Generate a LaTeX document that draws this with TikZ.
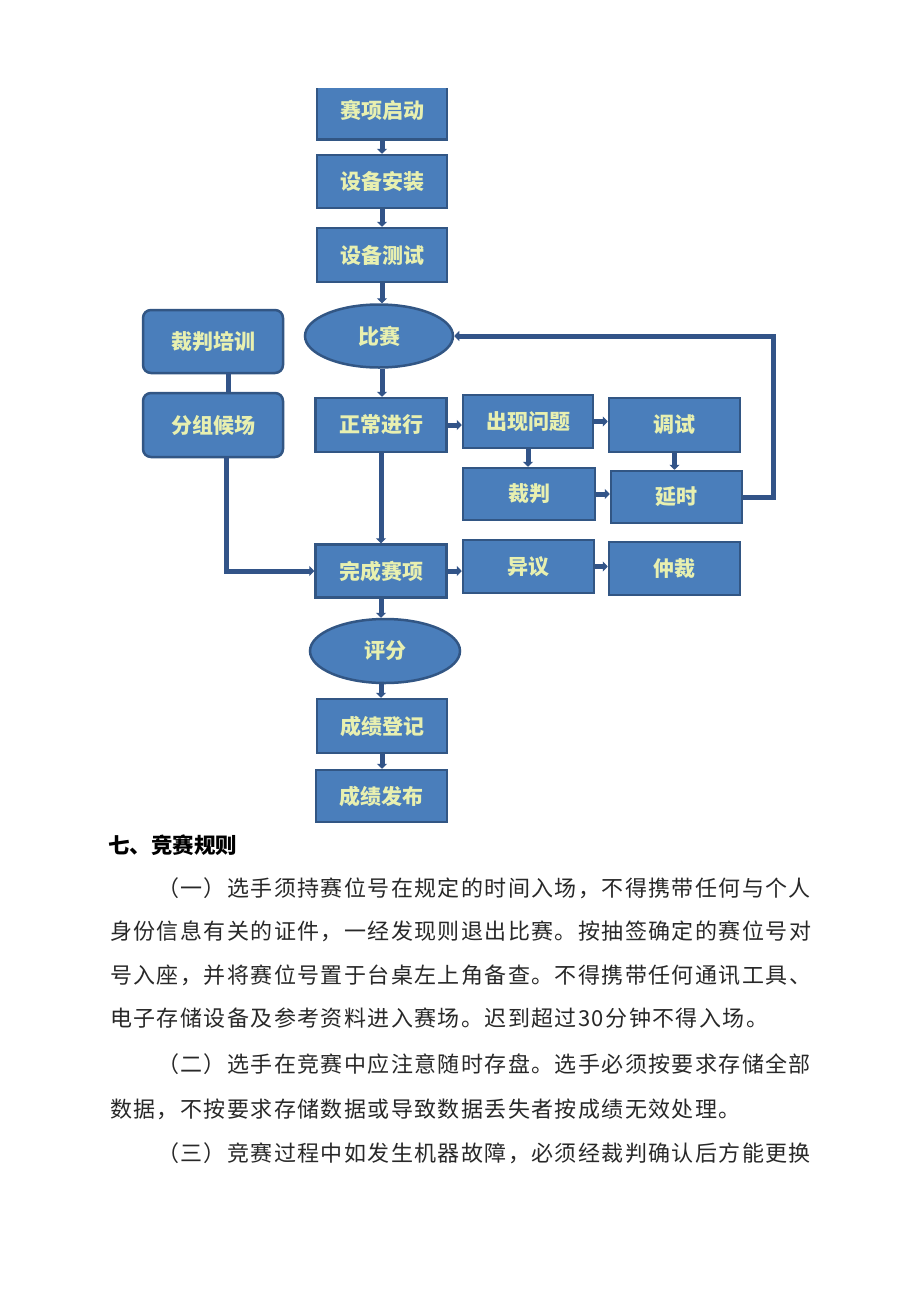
\documentclass[tikz,border=0pt]{standalone}
\usepackage{fontspec}
\setmainfont{Noto Sans CJK SC}
\newfontfamily\bodyfontfam{Noto Sans CJK SC}[LetterSpace=6.4]
\newcommand{\bodyfont}{\bodyfontfam\fontsize{22}{26}\selectfont}
\newcommand{\titlefont}{\bfseries\fontsize{21.5}{25}\selectfont}
\usetikzlibrary{arrows.meta,shapes.geometric}
\definecolor{boxfill}{RGB}{74,126,187}
\definecolor{boxborder}{RGB}{50,86,132}
\definecolor{linecol}{RGB}{50,84,136}
\definecolor{boxtext}{RGB}{232,240,176}
\definecolor{bodytext}{RGB}{40,40,40}
\begin{document}
\begin{tikzpicture}[x=1pt,y=-1pt,
  box/.style={draw=boxborder, line width=2.5pt, fill=boxfill, minimum width=130pt,
    minimum height=53pt, inner sep=0pt, text=boxtext, font=\bfseries\fontsize{21}{25}\selectfont},
  rbox/.style={box, rounded corners=8pt, minimum width=140pt, minimum height=63pt},
  oval/.style={box, ellipse, minimum width=148pt, minimum height=63pt},
  conn/.style={draw=linecol, line width=5pt, line join=miter},
  arr/.style={conn, -{Triangle[length=5pt,width=10pt]}},
  body/.style={anchor=base west, inner sep=0pt, font=\bodyfont, text=bodytext},
  ttl/.style={anchor=base west, inner sep=0pt, font=\titlefont, text=black}
]
\fill[white] (0,0) rectangle (920,1301);
\useasboundingbox (0,0) rectangle (920,1301);

\begin{scope}
\clip (0,88) rectangle (920,824);
% main column
\node[box, minimum height=59pt] (s1) at (382,110) {赛项启动};
\node[box] (s2) at (382,181.5) {设备安装};
\node[box, minimum height=54pt] (s3) at (382,255) {设备测试};
\node[oval] (bs) at (379,336) {比赛};
\node[box, minimum width=131pt, minimum height=54pt] (zc) at (381,425) {正常进行};
\node[box, minimum width=131pt] (wc) at (381,571) {完成赛项};
\node[oval, minimum width=150pt, minimum height=64pt] (pf) at (385,651) {评分};
\node[box, minimum height=54pt] (dj) at (382,726) {成绩登记};
\node[box, minimum width=131pt, minimum height=52pt] (fb) at (381.5,796) {成绩发布};
% left column
\node[rbox] (cp) at (213,341.5) {裁判培训};
\node[rbox, minimum height=64pt] (fz) at (213,425) {分组候场};
% right blocks
\node[box] (cx) at (528,421.5) {出现问题};
\node[box, minimum width=131pt, minimum height=54pt] (ts) at (674.5,425) {调试};
\node[box, minimum width=132pt, minimum height=52pt] (cpj) at (529,494) {裁判};
\node[box, minimum width=131pt, minimum height=52pt] (ys) at (676.5,497) {延时};
\node[box, minimum width=131pt] (yy) at (528.5,566.5) {异议};
\node[box, minimum width=131pt] (zcai) at (674.5,568.5) {仲裁};

% main chain connectors
\draw[arr] (s1.south) -- (s2.north);
\draw[arr] (s2.south) -- (s3.north);
\draw[arr] (s3.south) -- (s3.south |- bs.north);
\draw[arr] (s3.south |- bs.south) -- (s3.south |- zc.north);
\draw[arr] (zc.south) -- (wc.north);
\draw[arr] (wc.south) -- (wc.south |- pf.north);
\draw[arr] (wc.south |- pf.south) -- (wc.south |- dj.north);
\draw[arr] (dj.south) -- (dj.south |- fb.north);
% left column connectors
\coordinate (cpb) at (228,373);
\coordinate (fzb) at (226,457);
\draw[conn] (cpb) -- (cpb |- fz.north);
\draw[arr] (fzb) |- (wc.west);
% right side connectors
\draw[arr] (zc.east) -- (zc.east -| cx.west);
\draw[arr] (cx.east) -- (cx.east -| ts.west);
\draw[arr] (cx.south) -- (cx.south |- cpj.north);
\draw[arr] (ts.south) -- (ts.south |- ys.north);
\draw[arr] (cpj.east) -- (cpj.east -| ys.west);
\draw[arr] (wc.east) -- (wc.east -| yy.west);
\draw[arr] (yy.east) -- (yy.east -| zcai.west);
% loop back to 比赛
\coordinate (loopx) at (773,497);
\draw[arr] (ys.east) -- (ys.east -| loopx) -- (loopx |- bs.east) -- (bs.east);
\end{scope}

% text below
\node[ttl] (title) at (108,853) {七、竞赛规则};
\node[body] (l1) at (156.8,896) {（一）选手须持赛位号在规定的时间入场，不得携带任何与个人};
\node[body] (l2) at (110,939) {身份信息有关的证件，一经发现则退出比赛。按抽签确定的赛位号对};
\node[body] (l3) at (110,983) {号入座，并将赛位号置于台桌左上角备查。不得携带任何通讯工具、};
\node[body] (l4) at (110,1026) {电子存储设备及参考资料进入赛场。迟到超过30分钟不得入场。};
\node[body] (l5) at (156.8,1072) {（二）选手在竞赛中应注意随时存盘。选手必须按要求存储全部};
\node[body] (l6) at (110,1117) {数据，不按要求存储数据或导致数据丢失者按成绩无效处理。};
\node[body] (l7) at (156.8,1161) {（三）竞赛过程中如发生机器故障，必须经裁判确认后方能更换};
\end{tikzpicture}
\end{document}
